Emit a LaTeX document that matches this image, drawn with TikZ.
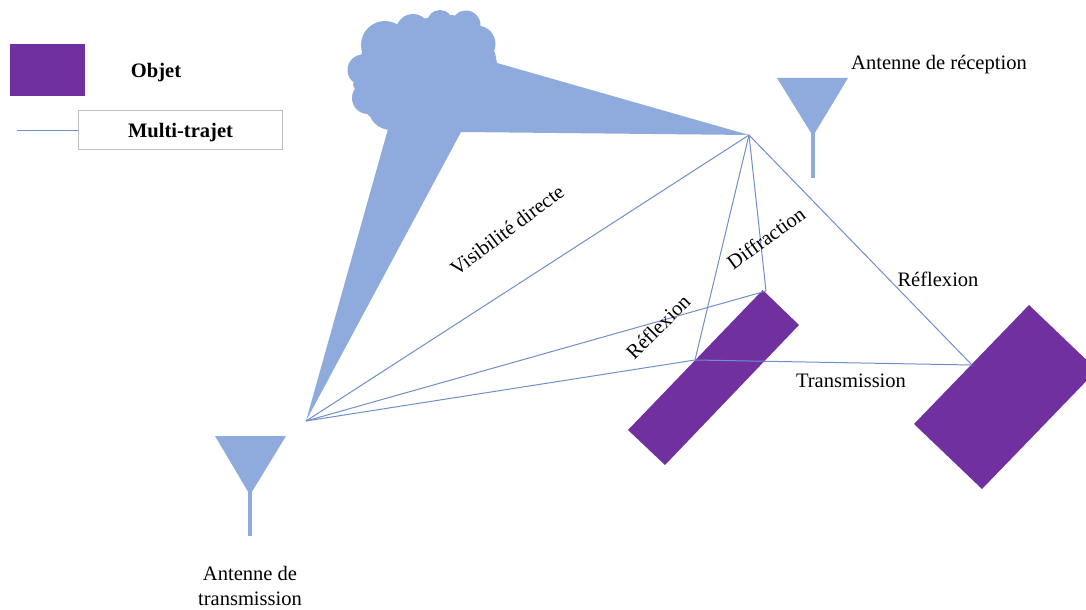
\documentclass[tikz,border=0pt]{standalone}
\usepackage{fontspec}
\setmainfont{Liberation Serif}
\tikzset{
  px/.style={x=0.75pt,y=-0.75pt},
  beam/.style={fill=beamblue,draw=none},
  obj/.style={fill=objpurple,draw=none},
  path line/.style={draw=pathblue,line width=0.75pt},
  lbl/.style={font=\fontsize{15.4pt}{18.6pt}\selectfont,text=black,inner sep=0pt,align=center},
  legendlbl/.style={font=\fontsize{15.4pt}{18.4pt}\selectfont\bfseries,text=black,inner sep=0pt},
  stem/.style={draw=beamblue,line width=2.6pt}
}
\definecolor{beamblue}{HTML}{8FAADC}
\definecolor{objpurple}{HTML}{7030A0}
\definecolor{pathblue}{HTML}{6F8FCB}
\definecolor{boxgray}{HTML}{BFBFBF}
\begin{document}
\begin{tikzpicture}[px]
\useasboundingbox (0,0) rectangle (1086,610);
\clip (0,0) rectangle (1086,610);
\fill[white] (0,0) rectangle (1086,610);
% key points
\coordinate (T) at (306,421);
\coordinate (R) at (749,135);
\coordinate (E) at (766,291);
\coordinate (D) at (695,360);
\coordinate (F) at (972,365);
% cloud and beam
\foreach \cx/\cy/\r in {385/45/24, 413/31/17, 440/23/13, 466/25/14.5, 477/44/18.5, 363/70/15.5, 368/98/16, 391/107/23}
  \fill[beam] (\cx,\cy) circle[radius=\r];
\fill[beam] (362,52) -- (398,24) -- (427,18) -- (453,15) -- (482,28) -- (495,53) -- (497,63) -- (R) -- (461,132) -- (T) -- (388,129) -- (368,115) -- (353,85) -- cycle;
% antennas
\coordinate (rxneck) at (813,128);
\coordinate (rxend) at (813,178);
\coordinate (txneck) at (250,487);
\coordinate (txend) at (250,536);
\fill[beam] (777,78) -- (848,78) -- (813,136) -- cycle;
\draw[stem] (rxneck) -- (rxend);
\fill[beam] (215,436) -- (286,436) -- (250,495) -- cycle;
\draw[stem] (txneck) -- (txend);
% objects
\fill[obj] (762.7,290) -- (799,325) -- (665,465) -- (628,430) -- cycle;
\fill[obj] (1029,305) -- (1097,370) -- (982,489) -- (914,424) -- cycle;
\fill[obj] (10,44) rectangle (85,96);
% paths
\draw[path line] (T) -- (R);
\draw[path line] (T) -- (E);
\draw[path line] (E) -- (R);
\draw[path line] (T) -- (D);
\draw[path line] (D) -- (R);
\draw[path line] (D) -- (F);
\draw[path line] (F) -- (R);
% labels
\node[lbl,rotate=37] (vis) at (507,230) {Visibilité directe};
\node[lbl,rotate=36] (dif) at (766,238) {Diffraction};
\node[lbl,rotate=45] (ref1) at (658,327) {Réflexion};
\node[lbl] (ref2) at (938,279.5) {Réflexion};
\node[lbl] (tra) at (851,381) {Transmission};
\node[lbl] (rxl) at (939,64.5) {Antenne de réception};
\node[lbl] (txl) at (250,586) {Antenne de\\transmission};
% legend
\node[legendlbl] (objl) at (156,73) {Objet};
\node[legendlbl] (mtt) at (180.5,133) {Multi-trajet};
\node[draw=boxgray,line width=0.75pt,inner sep=0pt,minimum width=153pt,minimum height=29.25pt] (mt) at (180.5,130) {};
\coordinate (mtstart) at (17,131);
\draw[path line] (mtstart) -- (mtstart -| mt.west);
\end{tikzpicture}
\end{document}
